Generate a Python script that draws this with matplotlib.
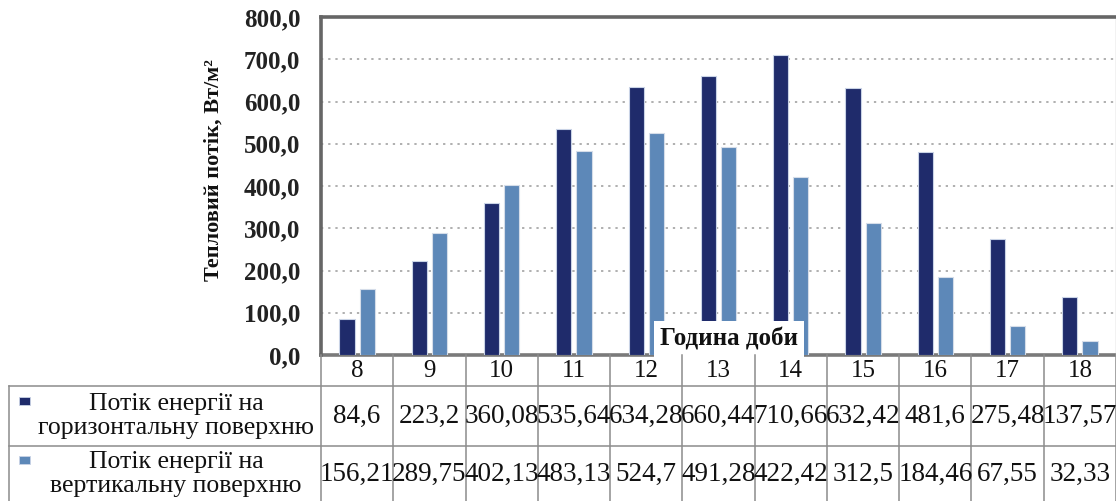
import matplotlib
matplotlib.use("Agg")
import matplotlib.pyplot as plt
from matplotlib.transforms import blended_transform_factory
from matplotlib.lines import Line2D
from matplotlib.patches import Rectangle
import numpy as np

# Hourly heat flux data
hours = [8, 9, 10, 11, 12, 13, 14, 15, 16, 17, 18]
horizontal = [84.6, 223.2, 360.08, 535.64, 634.28, 660.44, 710.66, 632.42, 481.6, 275.48, 137.57]
vertical = [156.21, 289.75, 402.13, 483.13, 524.7, 491.28, 422.42, 312.5, 184.46, 67.55, 32.33]
series_names = ["Потік енергії на\nгоризонтальну поверхню",
                "Потік енергії на\nвертикальну поверхню"]
y_ticks = [0, 100, 200, 300, 400, 500, 600, 700, 800]

DARK = "#1f2b6b"
LIGHT = "#5d88b8"
SERIF = "Liberation Serif"

W, H = 1116, 501
fig = plt.figure(figsize=(W / 100, H / 100), dpi=100)
fig.patch.set_facecolor("white")

# plot area in pixel terms
left_px, right_px, top_px, bottom_px = 321, 1116, 17, 355
ax = fig.add_axes([left_px / W, 1 - bottom_px / H,
                   (right_px - left_px) / W, (bottom_px - top_px) / H])

x = np.arange(len(hours))
bw, off = 0.21, 0.14
ax.bar(x - off, horizontal, width=bw, color=DARK, edgecolor="#c9d3e6",
       linewidth=0.8, zorder=3)
ax.bar(x + off, vertical, width=bw, color=LIGHT, edgecolor="#d5dde9",
       linewidth=0.8, zorder=3)

ax.set_xlim(-0.5, len(hours) - 0.5)
ax.set_ylim(0, 800)
ax.set_yticks(y_ticks)
ax.set_yticklabels([f"{v:.1f}".replace(".", ",") for v in y_ticks],
                   fontfamily=SERIF, fontweight="bold", fontsize=18, color="#222222")
ax.tick_params(axis="y", length=0, pad=15)
ax.set_xticks([])

ax.yaxis.grid(True, linestyle=(0, (1.5, 3.2)), color="#9a9a9a", linewidth=1.1, zorder=1)
ax.set_axisbelow(True)

for side in ("left", "top"):
    ax.spines[side].set_color("#666666")
    ax.spines[side].set_linewidth(2.6)
ax.spines["right"].set_color("#bdbdbd")
ax.spines["right"].set_linewidth(1.0)
ax.spines["bottom"].set_color("#7a7a7a")
ax.spines["bottom"].set_linewidth(2.6)
ax.spines["bottom"].set_zorder(2)

# axis titles
fig.text(214 / W, 1 - 170 / H, "Тепловий потік, Вт/м²", rotation=90,
         ha="center", va="center", fontfamily=SERIF, fontweight="bold",
         fontsize=16, color="#111111")
ax.text((729 - left_px) / (right_px - left_px), (bottom_px - 339) / (bottom_px - top_px),
        "Година доби", transform=ax.transAxes, ha="center", va="center",
        fontfamily=SERIF, fontweight="bold", fontsize=18, color="#111111", zorder=6,
        bbox=dict(boxstyle="square,pad=0.25", fc="white", ec="none"))

# data table below the axis
tr = blended_transform_factory(ax.transData, fig.transFigure)
fy = lambda py: 1 - py / H
line_kw = dict(color="#8c8c8c", linewidth=1.1)

legend_left = 9 / W

# vertical column borders
for b in np.arange(len(hours) + 1) - 0.5:
    fig.add_artist(Line2D([b, b], [fy(355), fy(501)], transform=tr, **line_kw))
# legend cell left border
fig.add_artist(Line2D([legend_left, legend_left], [fy(386), fy(501)],
                      transform=fig.transFigure, **line_kw))
# horizontal row borders
for py in (386, 446):
    fig.add_artist(Line2D([legend_left, 1.0], [fy(py), fy(py)],
                          transform=fig.transFigure, **line_kw))

# header: hours
for xi, h in zip(x, hours):
    fig.text(xi, fy(371), str(h), transform=tr, ha="center", va="center",
             fontfamily=SERIF, fontsize=18, color="#111111")

# value rows
rows = [horizontal, vertical]
row_centers = [416, 474]
for vals, cy in zip(rows, row_centers):
    for xi, v in zip(x, vals):
        fig.text(xi, fy(cy), f"{v:g}".replace(".", ","), transform=tr,
                 ha="center", va="center", fontfamily=SERIF, fontsize=19.5,
                 color="#111111")

# legend cell with series keys
for name, col, cy, ky in zip(series_names, [DARK, LIGHT], row_centers, [401, 460]):
    fig.text(176 / W, fy(cy), name, ha="center", va="center", ma="center",
             fontfamily=SERIF, fontsize=18.5, color="#111111", linespacing=1.15)
    fig.add_artist(Rectangle((19 / W, fy(ky + 4)), 11 / W, 8 / H,
                             transform=fig.transFigure, facecolor=col,
                             edgecolor="#c9d3e6", linewidth=0.6))

fig.savefig("out.png", dpi=100, facecolor="white")
